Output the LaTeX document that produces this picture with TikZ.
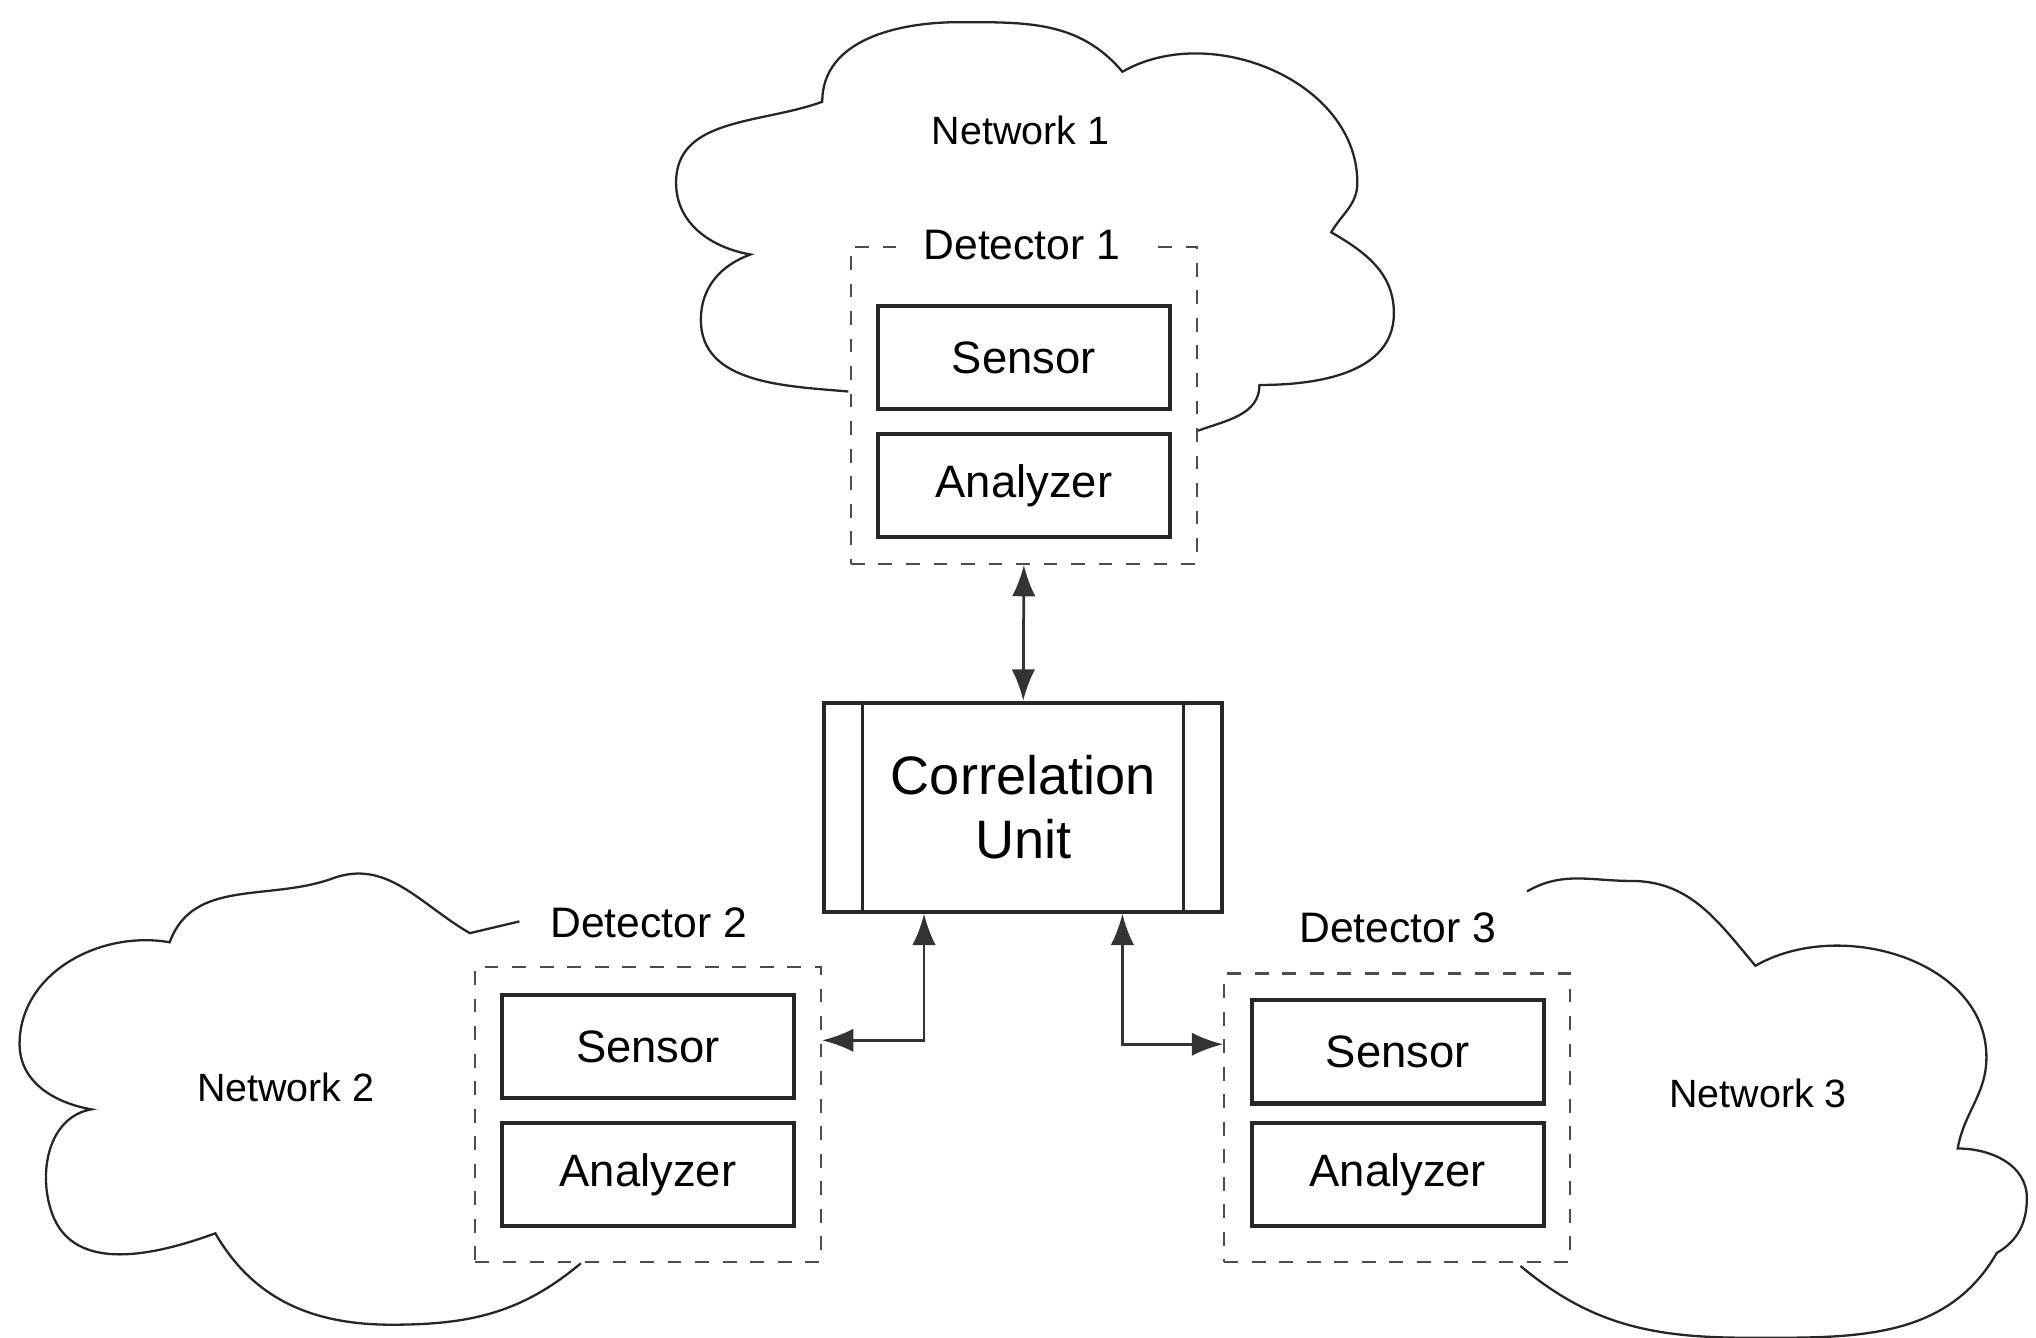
\documentclass[tikz,border=0pt]{standalone}
\usepackage{fontspec}
\setmainfont{Liberation Sans}
\usetikzlibrary{arrows.meta}
\begin{document}
\begin{tikzpicture}[x=0.1mm,y=0.1mm,
  cloud/.style={draw=black!85,line width=0.5pt},
  det/.style={draw=black!70,dashed,line width=0.5pt,fill=white,minimum width=26.5mm,inner sep=0pt},
  comp/.style={draw=black!85,line width=0.9pt,minimum width=22.4mm,minimum height=7.9mm,inner sep=0pt,font=\fontsize{9.9}{12}\selectfont},
  lab/.style={font=\fontsize{9.3}{11}\selectfont,fill=white,inner xsep=6pt,inner ysep=2pt},
  net/.style={font=\fontsize{8.6}{10}\selectfont},
  conn/.style={draw=black!80,line width=0.6pt,{Latex[length=2.4mm,width=1.8mm]}-{Latex[length=2.4mm,width=1.8mm]}}]
\useasboundingbox (0,0) rectangle (1560,-1025);
% clouds
\draw[cloud] (650,-300) to[out=175,in=-90] (537,-245) to[out=90,in=200] (575,-195)
  to[out=170,in=-90] (518,-140) to[out=90,in=200] (630,-78)
  to[out=90,in=180] (735,-17) to[out=0,in=130] (860,-55)
  to[out=30,in=90] (1040,-140) to[out=-90,in=60] (1020,-178)
  to[out=-30,in=90] (1068,-240) to[out=-90,in=0] (965,-295)
  to[out=-90,in=20] (918,-330);
\draw[cloud] (398,-706) -- (360,-715) to[out=150,in=20] (255,-673) to[out=200,in=70] (130,-722)
  to[out=170,in=90] (15,-800) to[out=-90,in=170] (70,-850)
  to[out=190,in=110] (40,-930) to[out=-70,in=200] (165,-945)
  to[out=-60,in=180] (300,-1015) to[out=0,in=-140] (445,-968);
\draw[cloud] (1170,-683) to[out=30,in=180] (1250,-675) to[out=0,in=130] (1345,-740)
  to[out=30,in=90] (1522,-810) to[out=-90,in=80] (1500,-880)
  to[out=0,in=90] (1553,-918) to[out=-90,in=30] (1530,-960)
  to[out=-120,in=0] (1340,-1025) to[out=180,in=-40] (1165,-970);
\node[net] (n1) at (782,-100) {Network 1};
\node[net] (n2) at (219,-833) {Network 2};
\node[net] (n3) at (1347,-838) {Network 3};
% detector 1
\node[det,minimum height=24.3mm] (d1) at (784.5,-310.5) {};
\node[lab] (d1l) at (783,-188) {Detector 1};
\node[comp] (s1) at (784.5,-274) {Sensor};
\node[comp] (a1) at (784.5,-372) {Analyzer};
% detector 2
\node[det,minimum height=22.6mm] (d2) at (496.5,-854) {};
\node[lab] (d2l) at (497,-707) {Detector 2};
\node[comp] (s2) at (496.5,-802) {Sensor};
\node[comp] (a2) at (496.5,-900) {Analyzer};
% detector 3
\node[det,minimum height=22.1mm] (d3) at (1070.5,-856.5) {};
\node[lab] (d3l) at (1071,-711) {Detector 3};
\node[comp] (s3) at (1071,-806) {Sensor};
\node[comp] (a3) at (1071,-900) {Analyzer};
% correlation unit
\node[draw=black!85,line width=0.9pt,minimum width=30.5mm,minimum height=16.0mm,inner sep=0pt,align=center,font=\fontsize{11.8}{14}\selectfont] (cu) at (784,-618.5) {Correlation\\Unit};
\draw[black!85,line width=0.7pt] ([xshift=3.1mm]cu.north west) -- ([xshift=3.1mm]cu.south west);
\draw[black!85,line width=0.7pt] ([xshift=-3.1mm]cu.north east) -- ([xshift=-3.1mm]cu.south east);
% connectors
\draw[conn] (d1.south) -- (cu.north);
\draw[conn] ([xshift=-7.6mm]cu.south) |- ([yshift=-5.7mm]d2.north east);
\draw[conn] ([xshift=7.6mm]cu.south) |- ([yshift=-5.5mm]d3.north west);
\end{tikzpicture}
\end{document}
